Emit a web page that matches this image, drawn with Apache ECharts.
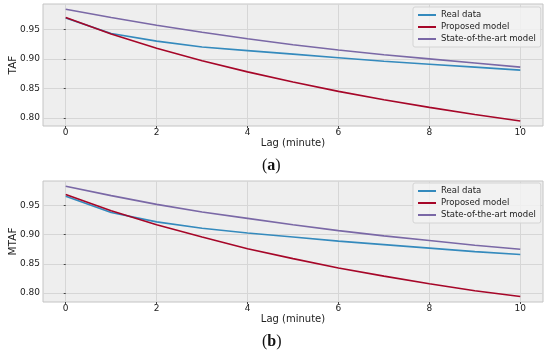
<!DOCTYPE html>
<html>
<head>
<meta charset="utf-8">
<script src="https://cdn.jsdelivr.net/npm/echarts@6/dist/echarts.min.js"></script>
<style>html,body{margin:0;padding:0;background:#fff}#c{width:550px;height:356px}</style>
</head>
<body>
<div id="c"></div>
<script>
var lags = [0,1,2,3,4,5,6,7,8,9,10];
var xTicks = [0,2,4,6,8,10];
var yTicks = [0.80,0.85,0.90,0.95];
var seriesNames = ['Real data','Proposed model','State-of-the-art model'];

// (a) TAF
var tafReal     = [0.969,0.943,0.930,0.920,0.914,0.908,0.902,0.896,0.891,0.886,0.881];
var tafProposed = [0.970,0.942,0.918,0.897,0.878,0.861,0.845,0.831,0.818,0.806,0.795];
var tafSota     = [0.984,0.970,0.957,0.945,0.934,0.924,0.915,0.907,0.900,0.893,0.886];

// (b) MTAF
var mtafReal     = [0.966,0.938,0.922,0.911,0.903,0.896,0.889,0.883,0.877,0.871,0.866];
var mtafProposed = [0.969,0.941,0.917,0.896,0.876,0.859,0.843,0.829,0.816,0.804,0.794];
var mtafSota     = [0.983,0.967,0.952,0.939,0.928,0.917,0.907,0.898,0.890,0.882,0.875];

var colors = ['#348ABD','#A60628','#7A68A6'];
var FONT = 'DejaVu Sans';

function pairs(ys){ return lags.map(function(x,i){ return [x, ys[i]]; }); }

function xAxis(gi){
  return {
    type:'value', gridIndex:gi, min:-0.5, max:10.5, splitNumber:5,
    name:'Lag (minute)', nameLocation:'middle', nameGap:12, nameMoveOverlap:false,
    nameTextStyle:{fontFamily:FONT, fontSize:10, color:'#222'},
    axisLine:{show:false},
    axisTick:{show:true, length:2, customValues:xTicks, lineStyle:{color:'#444'}},
    axisLabel:{customValues:xTicks, margin:2, fontFamily:FONT, fontSize:9, color:'#222'},
    splitLine:{show:true, lineStyle:{color:'#d6d6d6', width:1}}
  };
}
function yAxis(gi, name, mn, mx){
  return {
    type:'value', gridIndex:gi, min:mn, max:mx, splitNumber:5,
    name:name, nameLocation:'middle', nameGap:24, nameRotate:90, nameMoveOverlap:false,
    nameTextStyle:{fontFamily:FONT, fontSize:10.5, color:'#222'},
    axisLine:{show:false},
    axisTick:{show:true, length:2, customValues:yTicks, lineStyle:{color:'#444'}},
    axisLabel:{customValues:yTicks, margin:3, fontFamily:FONT, fontSize:9, color:'#222',
      formatter:function(v){ return v.toFixed(2); }},
    splitLine:{show:true, lineStyle:{color:'#d6d6d6', width:1}}
  };
}
function line(gi, name, ys, ci){
  return {
    type:'line', name:name, xAxisIndex:gi, yAxisIndex:gi, data:pairs(ys),
    showSymbol:false, symbol:'none', lineStyle:{color:colors[ci], width:1.6},
    itemStyle:{color:colors[ci]}, animation:false, z:3
  };
}
function legend(top){
  return {
    orient:'vertical', left:413, top:top, data:seriesNames,
    icon:'rect', itemWidth:18, itemHeight:2, itemGap:2,
    padding:[3,5,3,5], backgroundColor:'rgba(242,242,242,0.85)',
    borderColor:'#d4d4d4', borderWidth:1, borderRadius:2,
    textStyle:{fontFamily:FONT, fontSize:8.5, color:'#222', lineHeight:10},
    selectedMode:false
  };
}

var chart = echarts.init(document.getElementById('c'), null, {renderer:'canvas'});
chart.setOption({
  animation:false,
  color:colors,
  grid:[
    {left:43, top:4, width:500, height:122, show:true, containLabel:false, outerBoundsMode:'none', backgroundColor:'#eeeeee', borderColor:'#c4c4c4', borderWidth:1},
    {left:43, top:181, width:500, height:121, show:true, containLabel:false, outerBoundsMode:'none', backgroundColor:'#eeeeee', borderColor:'#c4c4c4', borderWidth:1}
  ],
  xAxis:[xAxis(0), xAxis(1)],
  yAxis:[yAxis(0,'TAF',0.7865,0.9928), yAxis(1,'MTAF',0.7847,0.992)],
  legend:[legend(7), legend(183)],
  series:[
    line(0, seriesNames[0], tafReal, 0),
    line(0, seriesNames[1], tafProposed, 1),
    line(0, seriesNames[2], tafSota, 2),
    line(1, seriesNames[0], mtafReal, 0),
    line(1, seriesNames[1], mtafProposed, 1),
    line(1, seriesNames[2], mtafSota, 2)
  ],
  graphic:[
    {type:'text', left:262, top:158, style:{text:'{p|(}{b|a}{p|)}', rich:{
      p:{fontFamily:'Liberation Serif', fontSize:16, fill:'#111'},
      b:{fontFamily:'Liberation Serif', fontSize:16, fontWeight:'bold', fill:'#111'}}}},
    {type:'text', left:262, top:334, style:{text:'{p|(}{b|b}{p|)}', rich:{
      p:{fontFamily:'Liberation Serif', fontSize:16, fill:'#111'},
      b:{fontFamily:'Liberation Serif', fontSize:16, fontWeight:'bold', fill:'#111'}}}}
  ]
});
</script>
</body>
</html>
